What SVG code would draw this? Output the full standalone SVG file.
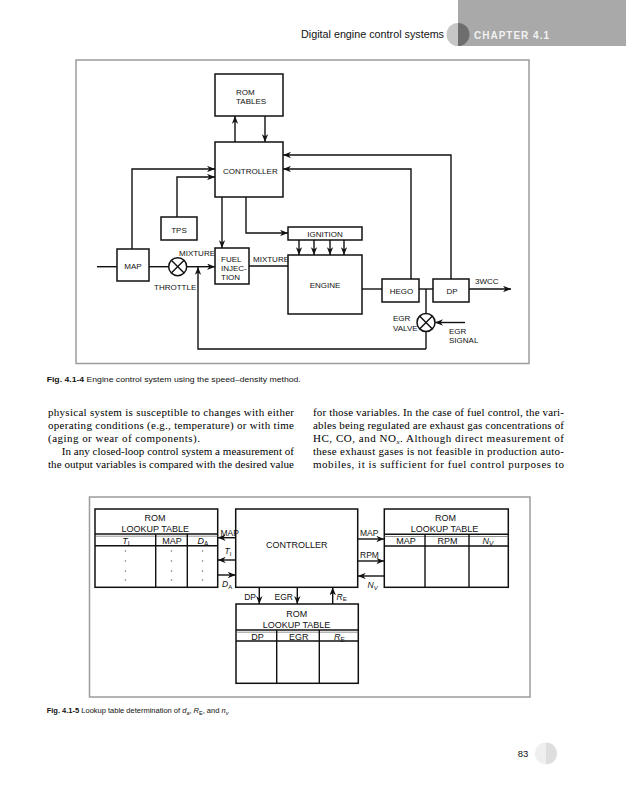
<svg xmlns="http://www.w3.org/2000/svg" width="626" height="800" viewBox="0 0 626 800">
<defs>
<style>
.box{fill:#fff;stroke:#111;stroke-width:1.5}
.ln{fill:none;stroke:#111;stroke-width:1.4}
.arr{marker-end:url(#ah)}
.frame{fill:none;stroke:#9c9c9c;stroke-width:1.5}
.s8{font-family:"Liberation Sans",Arial,sans-serif;font-size:8px;fill:#111}
.s9{font-family:"Liberation Sans",Arial,sans-serif;font-size:9px;fill:#111}
.s85{font-family:"Liberation Sans",Arial,sans-serif;font-size:8.5px;fill:#111}
.mid{text-anchor:middle}
.end{text-anchor:end}
.it{font-style:italic}
.body{font-family:"Liberation Serif","Times New Roman",serif;font-size:11px;fill:#000}
.cap{font-family:"Liberation Sans",Arial,sans-serif;font-size:8px;fill:#111}
.dot{fill:#777}
</style>
<marker id="ah" viewBox="0 0 10 8" refX="10" refY="4" markerWidth="8" markerHeight="6.4" markerUnits="userSpaceOnUse" orient="auto">
<path d="M0,0 L10,4 L0,8 L3,4 Z" fill="#111"/>
</marker>
</defs>
<rect width="626" height="800" fill="#fff"/>

<!-- header -->
<g id="header">
<rect x="458" y="0" width="168" height="46" fill="#a9a9a9"/>
<path d="M458,23 A11.5,11.5 0 0 0 458,46 Z" fill="#c6c6c6"/>
<path d="M458,23 A11.5,11.5 0 0 1 458,46 Z" fill="#6e6e6e"/>
<text x="301" y="38" font-family="'Liberation Sans',Arial,sans-serif" font-size="10.8" fill="#111" textLength="143" lengthAdjust="spacingAndGlyphs">Digital engine control systems</text>
<text x="474" y="38.5" font-family="'Liberation Sans',Arial,sans-serif" font-size="10" font-weight="bold" letter-spacing="1" fill="#f2f2f2">CHAPTER 4.1</text>
</g>

<!-- Figure 4.1-4 -->
<rect class="frame" x="76" y="60" width="453" height="303.5"/>

<g id="rom_tables">
<rect class="box" x="215" y="74" width="68" height="42"/>
<text class="s8" x="236" y="95">ROM</text>
<text class="s8" x="236" y="104">TABLES</text>
</g>
<g id="controller">
<rect class="box" x="215" y="142" width="68" height="55"/>
<text class="s8" x="223" y="174">CONTROLLER</text>
</g>
<g id="tps">
<rect class="box" x="161" y="217" width="36" height="23"/>
<text class="s8 mid" x="179" y="233">TPS</text>
</g>
<g id="map">
<rect class="box" x="117" y="249" width="32" height="32"/>
<text class="s8 mid" x="133" y="268.5">MAP</text>
</g>
<g id="throttle">
<circle cx="177.7" cy="266.7" r="9" fill="#fff" stroke="#111" stroke-width="1.5"/>
<path class="ln" d="M171.3,260.3 L184.1,273.1 M184.1,260.3 L171.3,273.1"/>
<text class="s8" x="179" y="255.5">MIXTURE</text>
<text class="s8" x="154" y="290">THROTTLE</text>
</g>
<g id="fuel_injection">
<rect class="box" x="215" y="248" width="34" height="36"/>
<text class="s8" x="221" y="262">FUEL</text>
<text class="s8" x="221" y="271">INJEC-</text>
<text class="s8" x="221" y="279.5">TION</text>
</g>
<g id="ignition">
<rect class="box" x="288" y="227" width="74" height="13"/>
<text class="s8 mid" x="325" y="237">IGNITION</text>
</g>
<g id="engine">
<rect class="box" x="288" y="255" width="74" height="59"/>
<text class="s8 mid" x="325" y="288">ENGINE</text>
</g>
<g id="hego">
<rect class="box" x="382" y="279" width="37" height="23"/>
<text class="s8 mid" x="401.5" y="293.5">HEGO</text>
</g>
<g id="dp">
<rect class="box" x="433" y="279" width="36" height="23"/>
<text class="s8 mid" x="452" y="293.5">DP</text>
</g>
<g id="egr_valve">
<circle cx="426" cy="322.5" r="9" fill="#fff" stroke="#111" stroke-width="1.5"/>
<path class="ln" d="M419.6,316.1 L432.4,328.9 M432.4,316.1 L419.6,328.9"/>
<text class="s8" x="393" y="321">EGR</text>
<text class="s8" x="393" y="330.5">VALVE</text>
</g>

<g id="connectors1">
<line class="ln arr" x1="235" y1="142" x2="235" y2="116"/>
<line class="ln arr" x1="265" y1="116" x2="265" y2="142"/>
<polyline class="ln arr" points="451,279 451,155 283,155"/>
<polyline class="ln arr" points="411,279 411,169 283,169"/>
<polyline class="ln arr" points="132,249 132,169 215,169"/>
<polyline class="ln arr" points="177,217 177,177 215,177"/>
<line class="ln arr" x1="222" y1="197" x2="222" y2="248"/>
<polyline class="ln arr" points="246,197 246,233 288,233"/>
<line class="ln arr" x1="299" y1="240" x2="299" y2="255"/>
<line class="ln arr" x1="314" y1="240" x2="314" y2="255"/>
<line class="ln arr" x1="330" y1="240" x2="330" y2="255"/>
<line class="ln arr" x1="344" y1="240" x2="344" y2="255"/>
<line class="ln" x1="97" y1="266.7" x2="117" y2="266.7"/>
<line class="ln" x1="149" y1="266.7" x2="168.7" y2="266.7"/>
<line class="ln arr" x1="186.7" y1="266.7" x2="215" y2="266.7"/>
<line class="ln" x1="249" y1="266" x2="288" y2="266"/>
<text class="s8" x="253" y="262">MIXTURE</text>
<line class="ln" x1="362" y1="289" x2="382" y2="289"/>
<line class="ln" x1="419" y1="289" x2="433" y2="289"/>
<line class="ln arr" x1="469" y1="289" x2="511" y2="289"/>
<text class="s8" x="475" y="283.5">3WCC</text>
<line class="ln" x1="426" y1="289" x2="426" y2="313.5"/>
<line class="ln" x1="426" y1="331.5" x2="426" y2="349"/>
<line class="ln arr" x1="465" y1="322.5" x2="435" y2="322.5"/>
<text class="s8" x="449" y="334">EGR</text>
<text class="s8" x="449" y="343">SIGNAL</text>
<polyline class="ln arr" stroke-width="2" points="426,349 198,349 198,267"/>
</g>

<text class="cap" x="46.7" y="382" textLength="254" lengthAdjust="spacingAndGlyphs"><tspan font-weight="bold">Fig. 4.1-4</tspan> Engine control system using the speed–density method.</text>

<!-- body text -->
<g id="body">
<text class="body" x="48" y="416" textLength="246" lengthAdjust="spacing">physical system is susceptible to changes with either</text>
<text class="body" x="48" y="429" textLength="246" lengthAdjust="spacing">operating conditions (e.g., temperature) or with time</text>
<text class="body" x="48" y="442" textLength="152" lengthAdjust="spacing">(aging or wear of components).</text>
<text class="body" x="61.7" y="455" textLength="232.3" lengthAdjust="spacing">In any closed-loop control system a measurement of</text>
<text class="body" x="48" y="468" textLength="246" lengthAdjust="spacing">the output variables is compared with the desired value</text>
<text class="body" x="313" y="416" textLength="251" lengthAdjust="spacing">for those variables. In the case of fuel control, the vari-</text>
<text class="body" x="313" y="429" textLength="251" lengthAdjust="spacing">ables being regulated are exhaust gas concentrations of</text>
<text class="body" x="313" y="442" textLength="251" lengthAdjust="spacing">HC, CO, and NO<tspan dy="2" font-size="7" font-style="italic">x</tspan><tspan dy="-2">. Although direct measurement of</tspan></text>
<text class="body" x="313" y="455" textLength="251" lengthAdjust="spacing">these exhaust gases is not feasible in production auto-</text>
<text class="body" x="313" y="468" textLength="251" lengthAdjust="spacing">mobiles, it is sufficient for fuel control purposes to</text>
</g>

<!-- Figure 4.1-5 -->
<rect class="frame" x="89.5" y="497" width="440.5" height="200"/>

<g id="rom_left">
<rect class="box" x="95" y="509" width="122.7" height="78.3"/>
<line class="ln" x1="95" y1="534" x2="217.7" y2="534"/>
<line x1="95" y1="536.2" x2="217.7" y2="536.2" stroke="#666" stroke-width="0.7"/>
<line class="ln" x1="95" y1="545.7" x2="217.7" y2="545.7"/>
<line class="ln" x1="155.7" y1="534" x2="155.7" y2="587.3"/>
<line class="ln" x1="187.3" y1="534" x2="187.3" y2="587.3"/>
<text class="s9 mid" x="155" y="521">ROM</text>
<text class="s9 mid" x="155.3" y="531.5">LOOKUP TABLE</text>
<text class="s9 mid" x="126" y="544"><tspan class="it">T</tspan><tspan font-size="6.5" dy="1.5">I</tspan></text>
<text class="s9 mid" x="172" y="544">MAP</text>
<text class="s9 mid" x="203" y="544"><tspan class="it">D</tspan><tspan font-size="6.5" dy="1.5">A</tspan></text>
<circle class="dot" cx="125.4" cy="551" r="0.8"/><circle class="dot" cx="125.4" cy="561" r="0.8"/><circle class="dot" cx="125.4" cy="571" r="0.8"/><circle class="dot" cx="125.4" cy="580" r="0.8"/>
<circle class="dot" cx="171.5" cy="551" r="0.8"/><circle class="dot" cx="171.5" cy="561" r="0.8"/><circle class="dot" cx="171.5" cy="571" r="0.8"/><circle class="dot" cx="171.5" cy="580" r="0.8"/>
<circle class="dot" cx="202.5" cy="551" r="0.8"/><circle class="dot" cx="202.5" cy="561" r="0.8"/><circle class="dot" cx="202.5" cy="571" r="0.8"/><circle class="dot" cx="202.5" cy="580" r="0.8"/>
</g>

<g id="controller2">
<rect class="box" x="235.7" y="509" width="122" height="78.3"/>
<text class="s9 mid" x="296.7" y="548">CONTROLLER</text>
</g>

<g id="rom_right">
<rect class="box" x="384.3" y="509" width="124" height="78.3"/>
<line class="ln" x1="384.3" y1="534.3" x2="508.3" y2="534.3"/>
<line x1="384.3" y1="536.5" x2="508.3" y2="536.5" stroke="#666" stroke-width="0.7"/>
<line class="ln" x1="384.3" y1="546" x2="508.3" y2="546"/>
<line class="ln" x1="425" y1="534.3" x2="425" y2="587.3"/>
<line class="ln" x1="469" y1="534.3" x2="469" y2="587.3"/>
<text class="s9 mid" x="445.5" y="521">ROM</text>
<text class="s9 mid" x="444.5" y="531.5">LOOKUP TABLE</text>
<text class="s9 mid" x="406" y="544">MAP</text>
<text class="s9 mid" x="447.5" y="544">RPM</text>
<text class="s9 mid" x="488" y="544"><tspan class="it">N</tspan><tspan font-size="6.5" dy="1.5" font-style="italic">V</tspan></text>
</g>

<g id="rom_bottom">
<rect class="box" x="236" y="604" width="122.3" height="79.3"/>
<line class="ln" x1="236" y1="630" x2="358.3" y2="630"/>
<line x1="236" y1="632.2" x2="358.3" y2="632.2" stroke="#666" stroke-width="0.7"/>
<line class="ln" x1="236" y1="641" x2="358.3" y2="641"/>
<line class="ln" x1="276.7" y1="630" x2="276.7" y2="683.3"/>
<line class="ln" x1="319.3" y1="630" x2="319.3" y2="683.3"/>
<text class="s9 mid" x="296.7" y="616.5">ROM</text>
<text class="s9 mid" x="296.5" y="627.5">LOOKUP TABLE</text>
<text class="s9 mid" x="257.5" y="640">DP</text>
<text class="s9 mid" x="298.8" y="640">EGR</text>
<text class="s9 mid" x="339.3" y="640"><tspan class="it">R</tspan><tspan font-size="6.5" dy="1.5">E</tspan></text>
</g>

<g id="connectors2">
<line class="ln arr" x1="235.7" y1="537.7" x2="217.7" y2="537.7"/>
<line class="ln arr" x1="235.7" y1="560" x2="217.7" y2="560"/>
<line class="ln arr" x1="217.7" y1="575" x2="235.7" y2="575"/>
<line class="ln arr" x1="357.7" y1="539" x2="384.3" y2="539"/>
<line class="ln arr" x1="357.7" y1="561" x2="384.3" y2="561"/>
<line class="ln arr" x1="384.3" y1="576" x2="357.7" y2="576"/>
<line class="ln arr" x1="259.3" y1="587.3" x2="259.3" y2="604"/>
<line class="ln arr" x1="297.3" y1="587.3" x2="297.3" y2="604"/>
<line class="ln arr" x1="332.7" y1="604" x2="332.7" y2="587.3"/>
<text class="s85" x="220.5" y="536">MAP</text>
<text class="s85" x="224.5" y="554"><tspan class="it">T</tspan><tspan font-size="6" dy="1.5">I</tspan></text>
<text class="s85" x="222" y="587"><tspan class="it">D</tspan><tspan font-size="6" dy="1.5">A</tspan></text>
<text class="s85" x="360" y="536">MAP</text>
<text class="s85" x="360" y="558">RPM</text>
<text class="s85" x="367.5" y="588"><tspan class="it">N</tspan><tspan font-size="6" dy="1.5" font-style="italic">V</tspan></text>
<text class="s85 end" x="256" y="599.5">DP</text>
<text class="s85 end" x="293" y="599.5">EGR</text>
<text class="s85" x="336.5" y="599.5"><tspan class="it">R</tspan><tspan font-size="6" dy="1.5">E</tspan></text>
</g>

<text x="46.7" y="713" font-family="'Liberation Sans',Arial,sans-serif" font-size="7.5" fill="#111"><tspan font-weight="bold">Fig. 4.1-5</tspan> Lookup table determination of <tspan class="it">d</tspan><tspan font-size="5.5" dy="1.5" class="it">a</tspan><tspan dy="-1.5">, </tspan><tspan class="it">R</tspan><tspan font-size="5.5" dy="1.5">E</tspan><tspan dy="-1.5">, and </tspan><tspan class="it">n</tspan><tspan font-size="5.5" dy="1.5" class="it">v</tspan></text>

<g id="footer">
<path d="M546,742.5 A11,11 0 0 0 546,764.5 Z" fill="#efefef"/>
<path d="M546,742.5 A11,11 0 0 1 546,764.5 Z" fill="#dedede"/>
<text x="523" y="757" text-anchor="middle" font-family="'Liberation Sans',Arial,sans-serif" font-size="9.5" fill="#111">83</text>
</g>
</svg>
